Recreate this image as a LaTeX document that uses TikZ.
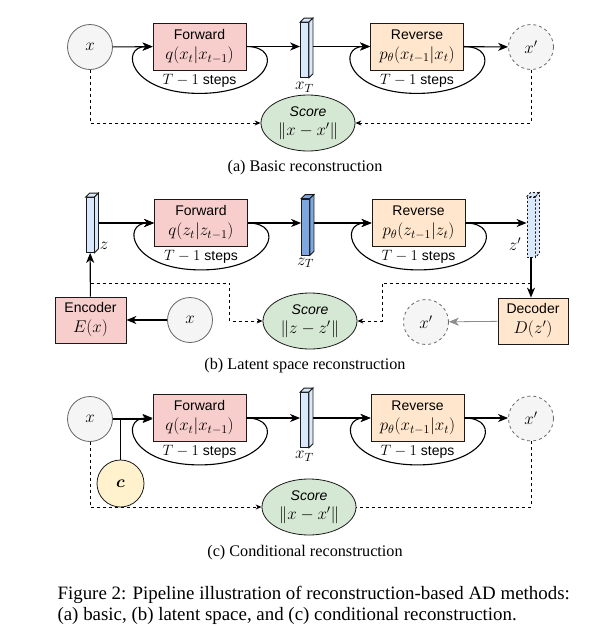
\documentclass[tikz,border=0pt]{standalone}
\usepackage{fix-cm}
\usepackage{amsmath}
\usepackage[no-math]{fontspec}
\setmainfont{Liberation Serif}
\setsansfont{Liberation Sans}
\usetikzlibrary{positioning,arrows.meta,calc,shapes.geometric}
\definecolor{fwdred}{HTML}{F8CECC}
\definecolor{revorange}{HTML}{FFE6CC}
\definecolor{scoregreen}{HTML}{D5E8D4}
\definecolor{condyellow}{HTML}{FFF2CC}
\definecolor{lightblue}{HTML}{DAE8FC}
\definecolor{midblue}{HTML}{7EA6E0}
\definecolor{inputgray}{HTML}{F5F5F5}
\definecolor{rimgray}{HTML}{666666}
\definecolor{ink}{HTML}{1A1A1A}
\newcommand{\nodemath}[1]{{\fontsize{17}{20}\selectfont$#1$}}
\newcommand{\stepmath}[1]{{\fontsize{15}{16}\selectfont$#1$}}
\tikzset{
>={Stealth[length=10pt,width=8pt,inset=3pt]},
node distance=3pt,
}

\begin{document}
\begin{tikzpicture}
    [x=1pt, y=-1pt, line width=1.1pt,
    sample/.style={circle, draw=rimgray, fill=inputgray, line width=0.8pt, minimum size=45pt, inner sep=0pt, font=\fontsize{17}{20}\selectfont},
    recon/.style={sample, dash pattern=on 3pt off 3pt},
    block/.style={rectangle, draw=ink, line width=0.8pt, minimum width=93pt, minimum height=47pt, inner sep=1pt, align=center, font=\sffamily\fontsize{14}{20}\selectfont},
    coder/.style={block, minimum width=71pt, minimum height=46pt},
    score/.style={ellipse, draw=ink, line width=0.8pt, fill=scoregreen, minimum width=94pt, minimum height=56pt, inner sep=0pt, align=center, font=\sffamily\fontsize{14}{19.5}\selectfont},
    latent/.style={rectangle, draw=ink, fill=lightblue, minimum width=8pt, minimum height=55pt, inner sep=0pt, line width=0.8pt},
    steps/.style={inner sep=0pt, font=\sffamily\fontsize{14}{16}\selectfont},
    lbl/.style={inner sep=0pt, font=\fontsize{17}{18}\selectfont},
    caption/.style={inner sep=0pt, font=\fontsize{16.2}{19}\selectfont},
    figcaption/.style={inner sep=0pt, anchor=west, font=\fontsize{18.9}{22}\selectfont},
    cmpline/.style={dash pattern=on 3pt off 3pt, line width=0.9pt},
    cmp/.style={cmpline, -{Stealth[length=6pt,width=5pt]}},
    ]
    \useasboundingbox (0,0) rectangle (593,638);

    % (a) basic reconstruction
    \node [sample] (xa) at (90,47) {$x$};
    \node [block, fill=fwdred] (fwda) at (199.5,46.5) {Forward\\\nodemath{q(x_t|x_{t-1})}};
    \node [latent] (xTa) at (304.5,50) {};
    \node [lbl, below=4pt of xTa] (xTa-lbl) {$x_T$};
    \node [block, fill=revorange] (reva) at (417,46.5) {Reverse\\\nodemath{p_\theta(x_{t-1}|x_t)}};
    \node [recon] (xpa) at (531,47) {$x'$};
    \node [score] (scorea) at (308,123) {\textit{Score}\\\nodemath{\|x-x'\|}};
    \node [caption] (capa) at (305,168) {(a) Basic reconstruction};

    \draw[->] (xa) -- (fwda);
    \draw[->] (fwda) -- (fwda -| xTa.west);
    \draw[->] (xTa.east |- reva) -- (reva);
    \draw[->] (reva) -- (xpa);
    \draw[cmp] (xa.south) |- (scorea.west);
    \draw[cmp] (xpa.south) |- (scorea.east);

    % (b) latent space reconstruction
    \node [latent] (zb) at (90,225) {};
    \node [lbl] (zb-lbl) at (104,246) {$z$};
    \node [block, fill=fwdred] (fwdb) at (201,223) {Forward\\\nodemath{q(z_t|z_{t-1})}};
    \node [latent, fill=midblue, minimum height=56pt] (zTb) at (305.5,227) {};
    \node [lbl, below=2pt of zTb] (zTb-lbl) {$z_T$};
    \node [block, fill=revorange] (revb) at (418.5,223) {Reverse\\\nodemath{p_\theta(z_{t-1}|z_t)}};
    \node [latent, dash pattern=on 2pt off 2pt, minimum height=60pt] (zpb) at (531,227) {};
    \node [lbl] (zpb-lbl) at (515,244) {$z'$};
    \node [coder, fill=fwdred] (enc) at (90.5,320) {Encoder\\\nodemath{E(x)}};
    \node [sample] (xb) at (190,320) {$x$};
    \node [score] (scoreb) at (310,321) {\textit{Score}\\\nodemath{\|z-z'\|}};
    \node [recon] (xpb) at (426,322) {$x'$};
    \node [coder, fill=revorange, minimum width=70pt] (dec) at (533,321) {Decoder\\\nodemath{D(z')}};
    \node [caption] (capb) at (305,366) {(b) Latent space reconstruction};
    \coordinate (zj) at (90.5,283);
    \coordinate (zpj) at (zpb.south |- zj);

    \draw[->] (zb.east |- fwdb) -- (fwdb);
    \draw[->] (fwdb) -- (fwdb -| zTb.west);
    \draw[->] (zTb.east |- revb) -- (revb);
    \draw[->] (revb) -- (revb -| zpb.west);
    \draw[->] (zpb.south) -- (zpb.south |- dec.north);
    \draw[->, draw=black!45, line width=0.8pt] (dec) -- (xpb);
    \draw[->] (xb) -- (enc);
    \draw[->] (enc) -- (zb);
    \draw[cmp] (zj) -| ([xshift=-33pt]scoreb.west) -- (scoreb.west);
    \draw[cmp] (zpj) -| ([xshift=25pt]scoreb.east) -- (scoreb.east);

    % (c) conditional reconstruction
    \node [sample] (xc) at (90,419) {$x$};
    \node [sample, draw=ink, fill=condyellow, minimum size=47pt] (cond) at (120.5,483.5) {$\boldsymbol{c}$};
    \node [block, fill=fwdred] (fwdc) at (199.5,418) {Forward\\\nodemath{q(x_t|x_{t-1})}};
    \node [latent] (xTc) at (304.5,420) {};
    \node [lbl, below=3pt of xTc] (xTc-lbl) {$x_T$};
    \node [block, fill=revorange] (revc) at (417.5,418) {Reverse\\\nodemath{p_\theta(x_{t-1}|x_t)}};
    \node [recon] (xpc) at (531,418.5) {$x'$};
    \node [score] (scorec) at (309,507) {\textit{Score}\\\nodemath{\|x-x'\|}};
    \node [caption] (capc) at (305,553) {(c) Conditional reconstruction};

    \draw[->] (xc) -- (xc -| fwdc.west);
    \draw (cond.north) -- (cond.north |- fwdc);
    \draw[->] (fwdc) -- (fwdc -| xTc.west);
    \draw[->] (xTc.east |- revc) -- (revc);
    \draw[->] (revc) -- (revc -| xpc.west);
    \draw[cmp] (xc.south) |- (scorec.west);
    \draw[cmpline] (xpc.south) |- (scorec.east);

    % T-1 step loops
    \foreach \b in {fwda,reva,fwdb,revb,fwdc,revc}
    {
        \draw[->] (\b.east) .. controls +(39,0) and +(71,0) .. ($(\b.south)+(0,23)$)
            .. controls +(-71,0) and +(-33,0) .. (\b.west);
        \node [steps, below=3pt of \b] (\b-steps) {\stepmath{T-1} steps};
    }

    % prism faces
    \foreach \c/\col in {xTa/lightblue,zb/lightblue,zTb/midblue,xTc/lightblue}
    {
        \filldraw[fill=\col, draw=ink, line width=0.8pt] (\c.north west) -- ++(4,-4)
            -- ([shift={(4pt,4pt)}]\c.north east) -- (\c.north east) -- cycle;
        \filldraw[fill=\col, draw=ink, line width=0.8pt] (\c.north east) -- ++(4,-4)
            -- ([shift={(4pt,4pt)}]\c.south east) -- (\c.south east) -- cycle;
    }
    \filldraw[fill=lightblue, draw=ink, line width=0.8pt, dash pattern=on 2pt off 2pt] (zpb.north west) -- ++(4,-4)
        -- ([shift={(4pt,4pt)}]zpb.north east) -- (zpb.north east) -- cycle;
    \filldraw[fill=lightblue, draw=ink, line width=0.8pt, dash pattern=on 2pt off 2pt] (zpb.north east) -- ++(4,-4)
        -- ([shift={(4pt,4pt)}]zpb.south east) -- (zpb.south east) -- cycle;

    % figure caption
    \node [figcaption] (fig1) at (57,595) {Figure 2: Pipeline illustration of reconstruction-based AD methods:};
    \node [figcaption] (fig2) at (57,616) {(a) basic, (b) latent space, and (c) conditional reconstruction.};
\end{tikzpicture}
\end{document}
